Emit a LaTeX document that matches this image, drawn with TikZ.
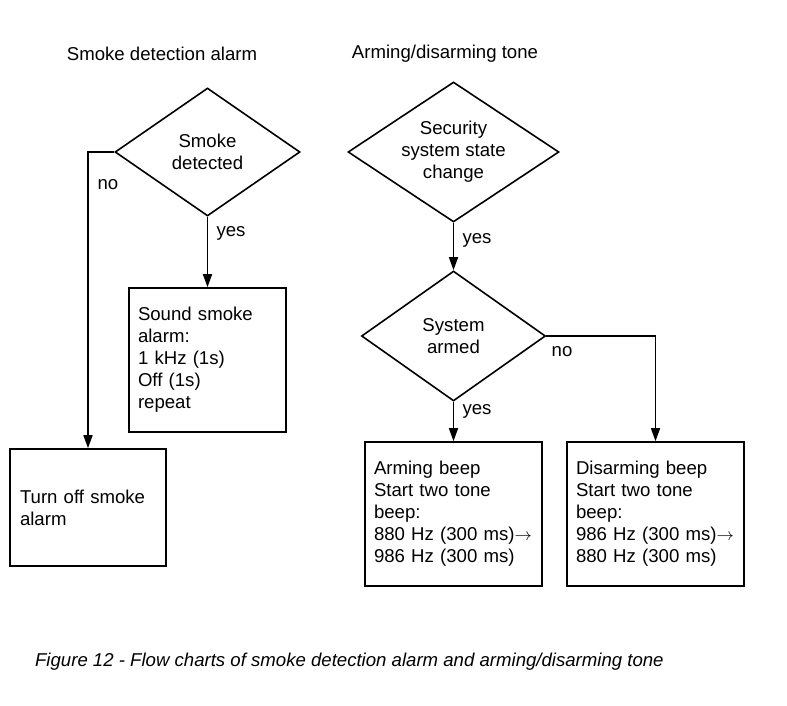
\documentclass[tikz,border=0pt]{standalone}
\usepackage{fontspec}
\setmainfont{Liberation Sans}
\usetikzlibrary{shapes.geometric,arrows.meta}

\tikzset{
    chart/.style={font=\fontsize{18.6}{22}\selectfont, line width=1.6pt},
    decision/.style={draw, diamond, inner sep=0pt, align=center},
    action/.style={draw, rectangle, inner xsep=9pt, inner ysep=0pt, align=left},
    flow/.style={-{Triangle[length=13pt,width=9pt]}},
    caption/.style={font=\fontsize{18.6}{22}\selectfont\itshape},
}

\begin{document}
\begin{tikzpicture}[x=1pt, y=-1pt, chart]
    \useasboundingbox (0,0) rectangle (787,706);
    \node (smoketitle) at (162,54) {Smoke detection alarm};
    \node (tonetitle) at (445,54) {Arming/disarming tone};
    \node[decision, minimum width=185pt, minimum height=128pt, shape aspect=1.45]
        (smoke) at (207.5,152) {Smoke\\detected};
    \node[action, text width=139pt, minimum height=144pt]
        (sound) at (207.5,360) {Sound smoke\\alarm:\\1 kHz (1s)\\Off (1s)\\repeat};
    \node[action, inner xsep=10pt, text width=136pt, minimum height=117pt]
        (turnoff) at (88,507.5) {Turn off smoke\\alarm};
    \node[decision, minimum width=211pt, minimum height=140pt, shape aspect=1.5]
        (security) at (453.5,152) {Security\\system state\\change};
    \node[decision, minimum width=184pt, minimum height=130pt, shape aspect=1.4]
        (armed) at (453.5,336) {System\\armed};
    \node[action, text width=159pt, minimum height=144pt]
        (arming) at (453.5,514) {Arming beep\\Start two tone\\beep:\\\mbox{880 Hz (300 ms)$\rightarrow$}\\986 Hz (300 ms)};
    \node[action, text width=159pt, minimum height=144pt]
        (disarming) at (655.5,514) {Disarming beep\\Start two tone\\beep:\\\mbox{986 Hz (300 ms)$\rightarrow$}\\880 Hz (300 ms)};
    \draw[flow] (smoke.south) -- (smoke.south |- sound.north);
    \draw[flow] (smoke.west) -| (turnoff.north);
    \draw[flow] (security.south) -- (armed.north);
    \draw[flow] (armed.south) -- (armed.south |- arming.north);
    \draw[flow] (armed.east) -| (disarming.north);
    \node (smokeno) at (108,185) {no};
    \node (smokeyes) at (231,233) {yes};
    \node (securityyes) at (477,240) {yes};
    \node (armedno) at (562,352) {no};
    \node (armedyes) at (477,411) {yes};
    \node[caption, anchor=west] (figcaption) at (31,662)
        {Figure 12 - Flow charts of smoke detection alarm and arming/disarming tone};
\end{tikzpicture}
\end{document}
